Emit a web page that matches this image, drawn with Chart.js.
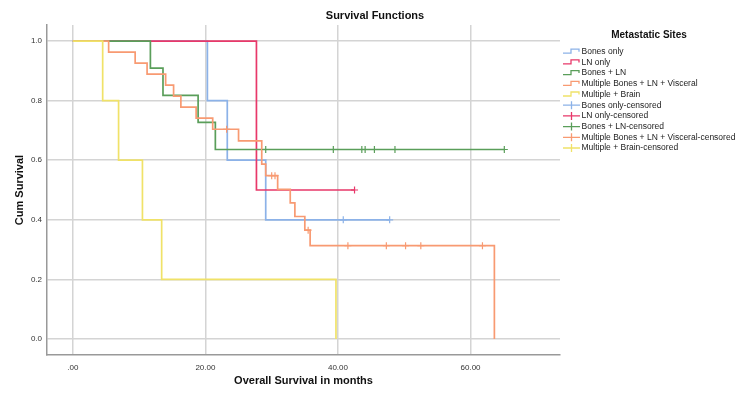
<!DOCTYPE html>
<html>
<head>
<meta charset="utf-8">
<script src="https://cdn.jsdelivr.net/npm/chart.js@4"></script>
<style>
  html, body { margin: 0; padding: 0; background: #fff; }
  #wrap { width: 750px; height: 398px; }
</style>
</head>
<body>
<div id="wrap"><canvas id="kmChart" width="750" height="398"></canvas></div>
<script>
// Kaplan-Meier estimates (months / cumulative survival)
const seriesNames = ['Bones only', 'LN only', 'Bones + LN', 'Multiple Bones + LN + Visceral', 'Multiple + Brain'];
const seriesColors = ['#8CB2E8', '#E8386A', '#5A9E5A', '#F89A72', '#F0E268'];

const bonesTimes = [0, 20.3, 23.3, 29.1];
const bonesSurv = [1, 0.8, 0.6, 0.4];
const bonesCensored = [40.8, 47.8];

const lnTimes = [0, 27.7];
const lnSurv = [1, 0.5];
const lnCensored = [42.5];

const bonesLnTimes = [0, 11.7, 13.6, 18.9, 21.5];
const bonesLnSurv = [1, 0.909, 0.818, 0.727, 0.636];
const bonesLnCensored = [29.1, 39.3, 43.6, 44.1, 45.5, 48.6, 65.1];

const multiTimes = [0, 5.4, 9.4, 11.2, 14.0, 15.2, 16.3, 18.6, 21.1, 25.0, 28.5, 29.1, 30.9, 32.8, 33.5, 35.0, 35.8, 63.6];
const multiSurv = [1, 0.963, 0.926, 0.889, 0.852, 0.815, 0.778, 0.741, 0.704, 0.665, 0.587, 0.548, 0.502, 0.457, 0.411, 0.365, 0.313, 0];
const multiCensored = [23.2, 30.0, 30.5, 35.5, 41.5, 47.3, 50.2, 52.5, 61.8];

const brainTimes = [0, 4.5, 6.9, 10.5, 13.4, 39.7];
const brainSurv = [1, 0.8, 0.6, 0.4, 0.2, 0];
const brainCensored = [];

const xTicks = [0, 20, 40, 60];
const yTicks = [0, 0.2, 0.4, 0.6, 0.8, 1.0];

const groups = [
  [bonesTimes, bonesSurv, bonesCensored],
  [lnTimes, lnSurv, lnCensored],
  [bonesLnTimes, bonesLnSurv, bonesLnCensored],
  [multiTimes, multiSurv, multiCensored],
  [brainTimes, brainSurv, brainCensored]
];

function stepPoints(times, surv, censored) {
  const pts = [{ x: times[0], y: surv[0] }];
  for (let i = 1; i < times.length; i++) {
    pts.push({ x: times[i], y: surv[i - 1] });
    pts.push({ x: times[i], y: surv[i] });
  }
  const end = Math.max(times[times.length - 1], ...censored);
  if (end > times[times.length - 1]) pts.push({ x: end, y: surv[surv.length - 1] });
  return pts;
}

function survAt(times, surv, t) {
  let s = surv[0];
  for (let i = 0; i < times.length; i++) if (times[i] <= t) s = surv[i];
  return s;
}

const datasets = [];
groups.forEach((g, i) => {
  datasets.push({
    label: seriesNames[i],
    data: stepPoints(g[0], g[1], g[2]),
    showLine: true,
    borderColor: seriesColors[i],
    borderWidth: 1.7,
    pointRadius: 0,
    tension: 0,
    order: 10 - i
  });
});
groups.forEach((g, i) => {
  datasets.push({
    label: seriesNames[i] + '-censored',
    data: g[2].map(t => ({ x: t, y: survAt(g[0], g[1], t) })),
    showLine: false,
    pointStyle: 'cross',
    pointRadius: 3.5,
    borderWidth: 1.2,
    borderColor: seriesColors[i],
    backgroundColor: seriesColors[i],
    order: 5 - i
  });
});

const font = 'Liberation Sans, Arial, sans-serif';

const decorations = {
  id: 'decorations',
  afterDraw(chart) {
    const ctx = chart.ctx;
    const area = chart.chartArea;
    ctx.save();
    ctx.fillStyle = '#111';
    ctx.textAlign = 'center';
    ctx.textBaseline = 'middle';
    ctx.font = 'bold 11px ' + font;
    ctx.fillText('Survival Functions', 375, 16);
    ctx.fillText('Overall Survival in months', (area.left + area.right) / 2, 381);
    ctx.save();
    ctx.translate(20, (area.top + area.bottom) / 2);
    ctx.rotate(-Math.PI / 2);
    ctx.fillText('Cum Survival', 0, 0);
    ctx.restore();

    // legend
    ctx.font = 'bold 10px ' + font;
    ctx.fillText('Metastatic Sites', 649, 35);
    ctx.textAlign = 'left';
    ctx.font = '8.5px ' + font;
    const x0 = 563, y0 = 51.7, dy = 10.7;
    const labels = seriesNames.concat(seriesNames.map(n => n + '-censored'));
    labels.forEach((lab, k) => {
      const y = y0 + k * dy;
      const c = seriesColors[k % 5];
      ctx.strokeStyle = c;
      ctx.lineWidth = 1.3;
      ctx.beginPath();
      if (k < 5) {
        ctx.moveTo(x0, y + 1.5);
        ctx.lineTo(x0 + 8, y + 1.5);
        ctx.lineTo(x0 + 8, y - 2.5);
        ctx.lineTo(x0 + 16, y - 2.5);
        ctx.lineTo(x0 + 16, y);
      } else {
        ctx.moveTo(x0, y);
        ctx.lineTo(x0 + 17, y);
        ctx.moveTo(x0 + 8.5, y - 4);
        ctx.lineTo(x0 + 8.5, y + 4);
      }
      ctx.stroke();
      ctx.fillStyle = '#222';
      ctx.fillText(lab, x0 + 18.5, y);
    });
    ctx.restore();
  }
};

new Chart(document.getElementById('kmChart'), {
  type: 'scatter',
  data: { datasets: datasets },
  options: {
    responsive: false,
    animation: false,
    layout: { padding: { top: 25, right: 190, left: 0, bottom: 0 } },
    plugins: {
      legend: { display: false },
      tooltip: { enabled: false },
      title: { display: false }
    },
    scales: {
      x: {
        type: 'linear',
        min: -3.9,
        max: 73.5,
        afterFit: s => { s.height = 43; },
        afterBuildTicks: s => { s.ticks = xTicks.map(v => ({ value: v })); },
        ticks: {
          padding: 8,
          color: '#333',
          font: { family: font, size: 8 },
          callback: v => (v === 0 ? '.00' : v.toFixed(2))
        },
        grid: { color: '#d4d4d4', lineWidth: 1.5, drawTicks: false },
        border: { display: true, color: '#999', width: 1.5 }
      },
      y: {
        type: 'linear',
        min: -0.054,
        max: 1.054,
        afterFit: s => { s.width = 47; },
        afterBuildTicks: s => { s.ticks = yTicks.map(v => ({ value: v })); },
        ticks: {
          padding: 5,
          color: '#333',
          font: { family: font, size: 8 },
          callback: v => v.toFixed(1)
        },
        grid: { color: '#d4d4d4', lineWidth: 1.5, drawTicks: false },
        border: { display: true, color: '#999', width: 1.5 }
      }
    }
  },
  plugins: [decorations]
});
</script>
</body>
</html>
